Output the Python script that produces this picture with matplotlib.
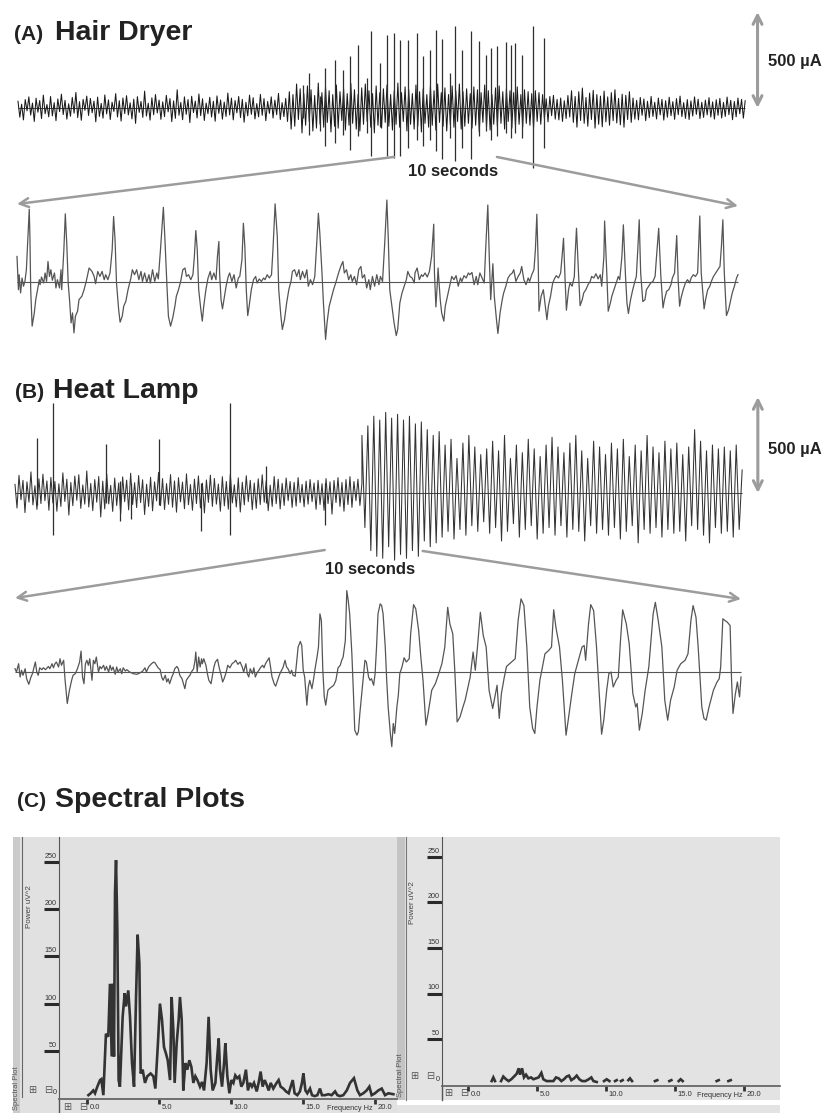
import numpy as np
import matplotlib
matplotlib.use('agg')
import matplotlib.pyplot as plt
from matplotlib.patches import Rectangle, ConnectionPatch

plt.rcParams['font.family'] = ['Liberation Sans', 'DejaVu Sans']

W, H = 826, 1113
PX_PER_UA = 96 / 500.0   # the 500 uA scale bar is 96 px tall

# ---------------- data ----------------
# (A) hair dryer, whole record: background activity (uA, evenly sampled) + spikes
ov_a_len = 70.6
ov_a_noise = [
    35, -48, 20, -62, 44, -15, 58, -37, 26, -70, 51, -22, 39, -55, 67, -30, 18, -46, 60, -41,
    28, -66, 47, -19, 72, -34, 40, -58, 22, -43, 55, -27, 81, -50, 33, -64, 45, -12, 62, -39,
    50, -25, 36, -72, 57, -44, 24, -53, 68, -31, 42, -60, 30, -18, 75, -47, 38, -68, 52, -29,
    64, -36, 27, -57, 46, -80, 59, -23, 34, -49, 88, -42, 25, -63, 53, -35, 70, -26, 41, -59,
    32, -45, 66, -20, 49, -71, 37, -54, 95, -38, 29, -61, 58, -33, 44, -76, 61, -24, 36, -52,
    73, -40, 48, -65, 26, -30, 56, -47, 35, -69, 63, -28, 42, -58, 31, -44, 78, -36, 52, -62,
    39, -25, 60, -50, 45, -74, 30, -41, 67, -33, 54, -57, 23, -46, 71, -38, 49, -66, 34, -28,
    58, -52, 41, -35, 76, -60, 28, -45, 50, -70,
    85, -110, 70, -95, 125, -60, 100, -130, 75, -90, 115, -70, 95, -120, 65, -105, 130, -85, 80, -100,
    110, -75, 90, -125, 70, -95, 120, -105, 85, -65, 100, -115, 75, -90, 128, -80, 95, -110, 70, -120,
    105, -85, 125, -70, 90, -100, 75, -130, 115, -90, 80, -105, 100, -75, 120, -95, 70, -115, 90, -85,
    130, -100, 80, -70, 110, -120, 95, -85, 75, -110, 120, -95, 85, -125, 100, -80, 70, -100, 115, -90,
    90, -115, 125, -75, 80, -95, 105, -120, 70, -85, 115, -100, 90, -70, 125, -110, 85, -95, 100, -80,
    75, -105, 110, -90, 95, -125, 80, -75, 120, -100, 90, -115, 70, -85, 105, -95, 115, -80, 85, -110,
    100, -70, 90, -105, 80, -95, 110, -85, 70, -100, 95, -80, 85, -90, 75, -105, 90, -70, 80, -85,
    70, -55, 48, -72, 60, -40, 66, -58, 45, -62, 52, -70, 38, -55, 65, -47,
    90, -75, 60, -100, 85, -65, 104, -80, 55, -95, 78, -60, 92, -105, 70, -85, 62, -98, 88, -72,
    58, -90, 80, -66, 95, -78, 50, -88, 72, -100, 66, -60, 85, -75, 52,
    -58, 40, -62, 55, -38, 47, -66, 35, -50, 60, -44, 30, -57, 52, -36, 45, -63, 38, -48, 56,
    -40, 33, -59, 49, -35, 62, -45, 28, -54, 44, -60, 37, -42, 58, -33, 46, -55, 30, -49, 41,
    -36, 54, -47, 32, -58, 43, -38, 50, -52, 29, -44, 57, -35, 40, -61, 34, -46, 52, -30, 45,
    -53, 38,
]
ov_a_spike_t = [27.7, 28.3, 29.3, 29.8, 30.8, 31.6, 32.2, 33.0, 33.9, 34.3,
                35.1, 35.8, 36.5, 37.1, 37.9, 38.7, 39.3, 40.0, 40.6, 41.2,
                41.9, 42.4, 43.1, 44.0, 44.8, 45.4, 45.9, 46.5, 47.4, 47.9,
                48.3, 48.9, 50.0, 51.1]
ov_a_spike_up = [121, 182, 60, 208, 251, 199, 269, 329, 156, 399,
                 234, 381, 390, 355, 355, 390, 269, 303, 407, 360,
                 182, 428, 303, 399, 347, 277, 312, 321, 342, 329,
                 338, 277, 425, 364]
ov_a_spike_dn = [-50, -139, -121, -199, -182, -139, -217, -147, -130, -251,
                 -100, -251, -260, -251, -208, -165, -199, -165, -225, -268,
                 -156, -277, -208, -268, -147, -121, -165, -147, -130, -156,
                 -130, -156, -312, -208]
win_a = (36.5, 46.5)   # 10 s window shown enlarged

# (A) enlarged 10 s window (s, uA)
za_t = [
    0.00, 0.02, 0.03, 0.05, 0.07, 0.09, 0.11, 0.13, 0.15, 0.17,
    0.18, 0.19, 0.21, 0.24, 0.26, 0.29, 0.31, 0.32, 0.34, 0.37,
    0.39, 0.41, 0.43, 0.45, 0.47, 0.49, 0.52, 0.54, 0.56, 0.59,
    0.61, 0.62, 0.65, 0.67, 0.69, 0.71, 0.73, 0.75, 0.77, 0.79,
    0.81, 0.84, 0.86, 0.90, 0.93, 0.96, 1.00, 1.04, 1.07, 1.09,
    1.12, 1.15, 1.18, 1.21, 1.23, 1.26, 1.29, 1.32, 1.34, 1.36,
    1.38, 1.41, 1.43, 1.46, 1.48, 1.51, 1.54, 1.58, 1.60, 1.63,
    1.66, 1.69, 1.72, 1.74, 1.77, 1.80, 1.83, 1.85, 1.88, 1.91,
    1.94, 1.96, 1.99, 2.03, 2.05, 2.08, 2.10, 2.13, 2.16, 2.19,
    2.21, 2.24, 2.27, 2.30, 2.33, 2.35, 2.38, 2.41, 2.44, 2.46,
    2.48, 2.50, 2.52, 2.55, 2.57, 2.59, 2.62, 2.65, 2.68, 2.70,
    2.73, 2.76, 2.78, 2.80, 2.81, 2.83, 2.85, 2.87, 2.90, 2.93,
    2.95, 2.98, 3.01, 3.04, 3.07, 3.09, 3.12, 3.14, 3.16, 3.18,
    3.20, 3.22, 3.25, 3.28, 3.31, 3.33, 3.36, 3.39, 3.42, 3.44,
    3.47, 3.50, 3.53, 3.55, 3.58, 3.61, 3.63, 3.66, 3.68, 3.71,
    3.74, 3.77, 3.80, 3.82, 3.85, 3.88, 3.91, 3.93, 3.96, 3.99,
    4.02, 4.04, 4.07, 4.10, 4.13, 4.16, 4.18, 4.20, 4.23, 4.25,
    4.28, 4.30, 4.33, 4.36, 4.39, 4.42, 4.46, 4.49, 4.52, 4.54,
    4.57, 4.60, 4.63, 4.65, 4.68, 4.71, 4.74, 4.77, 4.79, 4.82,
    4.85, 4.88, 4.90, 4.93, 4.96, 4.99, 5.02, 5.04, 5.07, 5.10,
    5.13, 5.15, 5.17, 5.20, 5.23, 5.26, 5.28, 5.31, 5.34, 5.37,
    5.40, 5.42, 5.45, 5.48, 5.51, 5.52, 5.55, 5.58, 5.61, 5.63,
    5.66, 5.69, 5.72, 5.75, 5.78, 5.79, 5.81, 5.83, 5.84, 5.87,
    5.89, 5.92, 5.94, 5.97, 6.00, 6.03, 6.06, 6.09, 6.12, 6.15,
    6.17, 6.20, 6.23, 6.26, 6.28, 6.31, 6.34, 6.37, 6.39, 6.42,
    6.45, 6.48, 6.50, 6.53, 6.55, 6.57, 6.60, 6.62, 6.65, 6.67,
    6.70, 6.73, 6.75, 6.78, 6.81, 6.84, 6.87, 6.89, 6.92, 6.95,
    6.98, 7.00, 7.03, 7.06, 7.09, 7.11, 7.14, 7.17, 7.19, 7.21,
    7.23, 7.24, 7.27, 7.30, 7.35, 7.37, 7.40, 7.43, 7.46, 7.48,
    7.51, 7.54, 7.56, 7.58, 7.60, 7.62, 7.65, 7.67, 7.70, 7.73,
    7.74, 7.76, 7.79, 7.81, 7.84, 7.86, 7.89, 7.92, 7.95, 7.97,
    8.00, 8.03, 8.06, 8.09, 8.11, 8.14, 8.15, 8.18, 8.20, 8.23,
    8.25, 8.28, 8.31, 8.34, 8.36, 8.39, 8.41, 8.44, 8.46, 8.48,
    8.51, 8.54, 8.57, 8.59, 8.61, 8.63, 8.65, 8.68, 8.71, 8.73,
    8.76, 8.79, 8.82, 8.85, 8.87, 8.90, 8.93, 8.96, 8.98, 9.01,
    9.04, 9.07, 9.09, 9.12, 9.15, 9.17, 9.19, 9.21, 9.24, 9.27,
    9.30, 9.33, 9.35, 9.38, 9.41, 9.44, 9.47, 9.49, 9.53, 9.55,
    9.58, 9.61, 9.63, 9.66, 9.69, 9.72, 9.75, 9.77, 9.79, 9.81,
    9.84, 9.87, 9.90, 9.92, 9.95, 9.98, 10.00,
]
za_v = [
    133, -40, 38, -57, 21, -22, 3, 64, 220, 379,
    220, -40, -230, -161, -92, -31, 12, -14, 26, -5,
    47, 3, 107, 29, 64, 9, 47, -31, 12, -31,
    64, -40, 168, 355, 202, -5, -100, -213, -161, -265,
    -178, -152, -92, -74, -40, 3, 73, 55, 29, -9,
    55, 29, 55, 12, 38, 12, 47, 168, 341, 220,
    -5, -144, -209, -178, -126, -100, -40, 21, 64, 38,
    64, 12, 55, 3, 47, -2, 38, -5, 64, 3,
    47, 16, 168, 389, 237, -22, -178, -230, -187, -126,
    -74, -40, 3, 64, 73, 29, 38, 12, 38, 133,
    268, 168, -40, -144, -204, -126, -40, 21, 55, 12,
    47, 12, 133, 211, 47, -92, -140, -92, -22, 29,
    47, 3, 38, -31, 21, 29, 116, 306, 185, -40,
    -175, -126, -40, 12, 29, -5, 16, 3, 21, 12,
    38, 21, 38, 168, 407, 237, -40, -178, -247, -196,
    -109, -40, 3, 55, 64, 29, 64, 12, 55, 21,
    64, -22, 12, -14, 29, 220, 358, 254, 47, -109,
    -299, -213, -126, -83, -40, -5, 47, 81, 107, 47,
    64, 12, 38, 3, 29, -14, 64, 81, 21, 38,
    -31, 12, -40, 29, -22, 38, -14, 29, 3, 202,
    427, 220, -40, -126, -213, -279, -247, -109, -57, -22,
    12, 55, 29, 21, -5, 47, 73, 12, 38, 29,
    47, 26, 55, 133, 301, 47, -130, -5, 73, -92,
    -161, -204, -126, -74, -22, 29, 12, 33, -22, 21,
    3, 33, 21, 47, 38, 50, -14, 29, -14, 47,
    21, -5, 168, 401, 133, -92, 95, -74, -196, -268,
    -161, -92, -57, -22, 21, 38, 47, 64, 3, 29,
    47, 81, 12, -14, 21, 3, 38, 64, 168, 353,
    81, -152, -74, -40, -196, -126, -74, -5, 21, 33,
    21, 47, 133, 228, 29, -147, -40, -5, -22, 29,
    133, 280, 29, -123, -92, -57, -40, -14, 3, 29,
    21, 43, 16, 38, -22, 133, 318, 47, -152, -109,
    -74, -40, -5, 29, 12, 133, 298, 29, -109, -164,
    -92, -40, 3, 29, 168, 324, 47, -102, -92, -40,
    -22, -5, 3, 29, 133, 280, 29, -135, -92, -48,
    -40, -14, 21, 47, 242, 12, -126, -83, -40, -5,
    12, -5, 21, 38, 29, 47, 344, 47, -140, -92,
    -40, -22, 3, 29, 47, 64, 81, 185, 324, 47,
    -175, -144, -92, -57, -22, 21, 38,
]

# (B) heat lamp, whole record: before heating and during heating (uA, evenly sampled)
ov_b_rest_len = 35.4
ov_b_rest = [
    45, -78, 92, -35, 66, -102, 58, -47, 110, -62, 38, -85, 74, -55, 98, -40, 63, -90, 81, -52,
    60, -95, 48, -70, 105, -44, 72, -115, 55, -66, 88, -38, 95, -80, 42, -58, 115, -73, 50, -92,
    70, -48, 86, -125, 62, -83, 99, -57, 40, -96, 78, -65, 52, -108, 84, -45, 67, -88, 103, -60,
    54, -76, 91, -50, 69, -112, 46, -70, 82, -93, 58, -41, 107, -66, 75, -86, 49, -59, 96, -74,
    63, -100, 80, -46, 57, -82, 100, -61, 44, -90, 72, -55, 89, -78, 51, -104, 68, -49, 93, -70,
    76, -58, 47, -95, 85, -67, 60, -84, 98, -52, 43, -73, 79, -99, 56, -62, 90, -45, 66, -87,
    52, -80, 74, -60, 95, -48, 64, -92, 41, -70, 86, -56, 72, -83, 50, -65, 78, -40, 60, -75,
    55, -68, 80, -50, 45, -72, 62, -58, 70, -45, 52, -85, 66, -60, 48, -90, 75, -55, 58, -110,
    65, -50, 80, -70, 55, -95, 70, -60, 85, -75, 60, -40, 72, -65, 50,
]
ov_b_heat_len = 38.8
ov_b_heat = [
    300, -180, 350, -300, 400, -330, 380, -340, 420, -280, 390, -350,
    410, -320, 380, -340, 400, -300, 360, -330, 370, -250, 330, -280,
    300, -260, 320, -230, 250, -200, 280, -240, 180, -190, 260, -220, 300, -170, 240, -200, 200, -150, 230, -210,
    270, -180, 220, -250, 300, -200, 180, -160, 250, -230, 210, -190, 280, -170, 230, -240, 190, -210, 250, -180,
    290, -220, 240, -170, 210, -230, 260, -190, 300, -200, 220, -250, 180, -170, 270, -210, 240, -190, 200, -220,
    260, -180, 230, -240, 280, -200, 190, -170, 250, -260, 220, -190, 300, -210, 240, -180, 210, -230, 270, -190,
    230, -210, 260, -200, 200, -250, 240, -170, 330, -190, 270, -220, 220, -260, 250, -180, 230, -210, 240, -200,
    220, -230, 250, -190, 120,
]
ov_b_spike_t = [2.2, 3.9, 9.3, 10.7, 11.8, 14.7, 19.0, 21.9, 25.6, 31.6]
ov_b_spike_up = [286, 468, 256, 60, 50, 281, 50, 468, 139, 50]
ov_b_spike_dn = [-60, -217, -50, -147, -138, -60, -199, -217, -50, -165]
win_b = (31.6, 41.6)

# (B) enlarged 10 s window (s, uA)
zb_t = [
    0.00, 0.02, 0.05, 0.07, 0.09, 0.11, 0.14, 0.16, 0.19, 0.22,
    0.24, 0.28, 0.30, 0.32, 0.34, 0.37, 0.39, 0.42, 0.46, 0.48,
    0.51, 0.53, 0.55, 0.57, 0.60, 0.62, 0.64, 0.67, 0.69, 0.72,
    0.75, 0.78, 0.80, 0.83, 0.86, 0.89, 0.91, 0.93, 0.95, 0.97,
    0.99, 1.01, 1.03, 1.06, 1.08, 1.10, 1.12, 1.15, 1.17, 1.19,
    1.22, 1.24, 1.26, 1.29, 1.31, 1.33, 1.35, 1.38, 1.40, 1.42,
    1.45, 1.47, 1.49, 1.52, 1.54, 1.58, 1.63, 1.68, 1.72, 1.76,
    1.79, 1.81, 1.84, 1.86, 1.88, 1.91, 1.93, 1.95, 1.97, 2.00,
    2.02, 2.04, 2.07, 2.09, 2.11, 2.13, 2.16, 2.18, 2.20, 2.23,
    2.25, 2.27, 2.30, 2.32, 2.34, 2.36, 2.39, 2.41, 2.43, 2.46,
    2.48, 2.49, 2.51, 2.53, 2.55, 2.57, 2.58, 2.60, 2.63, 2.65,
    2.67, 2.70, 2.72, 2.74, 2.76, 2.79, 2.81, 2.84, 2.86, 2.88,
    2.91, 2.93, 2.96, 2.99, 3.02, 3.04, 3.07, 3.10, 3.13, 3.15,
    3.18, 3.20, 3.22, 3.24, 3.27, 3.29, 3.31, 3.34, 3.36, 3.38,
    3.41, 3.43, 3.45, 3.48, 3.50, 3.52, 3.54, 3.57, 3.59, 3.61,
    3.64, 3.66, 3.69, 3.72, 3.74, 3.76, 3.79, 3.81, 3.83, 3.86,
    3.88, 3.90, 3.93, 3.95, 3.97, 3.99, 4.02, 4.04, 4.06, 4.09,
    4.11, 4.13, 4.16, 4.18, 4.20, 4.22, 4.24, 4.26, 4.28, 4.31,
    4.33, 4.36, 4.39, 4.42, 4.45, 4.48, 4.50, 4.52, 4.55, 4.57,
    4.59, 4.61, 4.64, 4.66, 4.68, 4.71, 4.73, 4.75, 4.78, 4.80,
    4.82, 4.84, 4.87, 4.89, 4.91, 4.94, 4.96, 4.98, 5.00, 5.03,
    5.05, 5.07, 5.10, 5.12, 5.14, 5.17, 5.19, 5.21, 5.23, 5.26,
    5.28, 5.30, 5.33, 5.36, 5.39, 5.43, 5.45, 5.49, 5.52, 5.56,
    5.59, 5.62, 5.66, 5.69, 5.74, 5.79, 5.83, 5.88, 5.92, 5.96,
    5.99, 6.03, 6.06, 6.09, 6.13, 6.17, 6.20, 6.24, 6.27, 6.31,
    6.34, 6.37, 6.41, 6.45, 6.49, 6.53, 6.58, 6.64, 6.67, 6.70,
    6.74, 6.77, 6.84, 6.89, 6.93, 6.97, 7.01, 7.05, 7.09, 7.13,
    7.16, 7.19, 7.23, 7.27, 7.30, 7.35, 7.39, 7.42, 7.45, 7.50,
    7.54, 7.59, 7.62, 7.67, 7.71, 7.76, 7.81, 7.84, 7.86, 7.90,
    7.93, 7.97, 8.01, 8.05, 8.08, 8.11, 8.15, 8.18, 8.21, 8.24,
    8.28, 8.31, 8.34, 8.37, 8.42, 8.46, 8.51, 8.55, 8.57, 8.60,
    8.64, 8.68, 8.73, 8.76, 8.79, 8.82, 8.86, 8.91, 8.95, 8.99,
    9.03, 9.08, 9.12, 9.17, 9.23, 9.27, 9.31, 9.34, 9.38, 9.41,
    9.46, 9.49, 9.52, 9.56, 9.62, 9.67, 9.70, 9.72, 9.75, 9.78,
    9.81, 9.85, 9.87, 9.89, 9.92, 9.95, 9.98, 10.00,
]
zb_v = [
    17, 0, 43, -26, 9, -17, 17, -35, -64, -26,
    -9, 52, 0, -17, 22, 12, 22, 12, 29, 17,
    43, 22, 43, 52, 26, 69, 35, 61, -43, -164,
    -95, -43, -17, -9, 17, 52, 109, -26, -61, 43,
    61, 35, 69, -43, 61, 43, 78, 0, 29, 17,
    35, 9, 29, 0, 35, 9, 26, -12, 26, 0,
    17, -9, 22, 5, 12, 0, -9, -12, -5, 5,
    22, 0, 26, 35, 43, 52, 47, 35, 22, 12,
    -26, -43, -17, -52, -35, -61, -26, -9, 17, 29,
    17, -17, -35, -61, -87, -43, -26, -17, 0, 17,
    61, 104, 0, 78, 26, 69, 43, 69, 35, -9,
    -43, -61, -17, 26, 52, 66, 26, -17, -52, -35,
    0, 35, 22, 43, 52, 61, 40, 52, 26, 0,
    43, -9, -26, 17, -9, 22, -26, 0, 9, 22,
    35, 22, 43, 61, 74, 26, -26, -61, -74, -52,
    -17, 0, 22, 61, 26, 17, -9, 9, -17, -22,
    52, 130, 159, 138, 9, -26, -173, -78, -43, -87,
    -43, 9, 78, 130, 303, 268, 9, -130, -173, -95,
    -87, -78, -69, -43, 22, 35, 61, 78, 164, 424,
    372, 303, 95, -95, -303, -329, -311, -216, -95, -17,
    61, 52, -26, -43, -35, -69, -9, 130, 303, 355,
    346, 303, 130, -43, -182, -320, -389, -268, -320, -182,
    -121, -9, 26, 74, 52, 69, 199, 351, 329, 216,
    78, -43, -277, -216, -95, -61, -17, 43, 130, 337,
    251, 199, -9, -260, -234, -182, -147, -78, -26, 104,
    9, 130, 311, 190, 130, -95, -190, -69, -242, -112,
    -26, 29, 52, 69, 268, 381, 346, 130, -182, -294,
    -320, -182, -43, 35, 95, 112, 130, 324, 234, 130,
    -43, -329, -251, -112, -9, 61, 130, 138, 61, 251,
    351, 320, 130, -130, -324, -251, -95, -9, 0, -78,
    -43, -26, 164, 324, 251, 147, -112, -182, -164, -303,
    -216, -95, 26, 164, 303, 363, 268, 130, -147, -251,
    -147, -78, 9, 43, 61, 95, 268, 346, 285, 130,
    -182, -242, -251, -182, -95, -52, -35, 26, 277, 268,
    260, 242, -43, -216, -121, -52, -130, -26,
]

# (C) spectral plots: frequency (Hz) and power (uV^2)
spec_a_f = [0.12, 0.28, 0.46, 0.58, 0.74, 0.93, 1.02, 1.16, 1.34, 1.50,
            1.62, 1.74, 1.81, 1.90, 1.97, 2.04, 2.13, 2.22, 2.31, 2.50,
            2.64, 2.73, 2.89, 3.01, 3.15, 3.29, 3.43, 3.54, 3.66, 3.75,
            3.89, 4.05, 4.21, 4.44, 4.63, 4.77, 4.95, 5.09, 5.23, 5.37,
            5.51, 5.63, 5.79, 5.90, 6.02, 6.11, 6.25, 6.39, 6.48, 6.60,
            6.71, 6.85, 6.99, 7.13, 7.27, 7.41, 7.55, 7.69, 7.87, 8.01,
            8.15, 8.33, 8.47, 8.61, 8.75, 8.94, 9.07, 9.17, 9.26, 9.40,
            9.54, 9.63, 9.77, 9.91, 10.05, 10.19, 10.32, 10.46, 10.60, 10.74,
            10.88, 11.06, 11.20, 11.34, 11.48, 11.62, 11.81, 11.94, 12.08, 12.22,
            12.36, 12.50, 12.64, 12.78, 12.96, 13.19, 13.33, 13.47, 13.66, 13.84,
            14.03, 14.17, 14.31, 14.44, 14.63, 14.81, 14.95, 15.05, 15.19, 15.32,
            15.51, 15.65, 15.83, 16.02, 16.20, 16.34, 16.55, 16.78, 17.01, 17.25,
            17.41, 17.59, 17.82, 18.06, 18.29, 18.56, 18.80, 18.98, 19.21, 19.44,
            19.63, 19.79, 20.02, 20.25, 20.49, 20.72, 20.95, 21.30]
spec_a_p = [3, 5, 8, 5, 12, 19, 20, 3, 68, 65,
            121, 44, 121, 44, 218, 252, 178, 19, 12, 86,
            111, 97, 114, 86, 37, 12, 107, 173, 143, 26,
            30, 16, 23, 26, 23, 10, 58, 100, 83, 54,
            47, 40, 19, 107, 72, 16, 58, 83, 107, 83,
            8, 37, 30, 40, 33, 16, 23, 19, 12, 17,
            8, 37, 86, 30, 8, 16, 44, 63, 30, 12,
            37, 58, 23, 5, 19, 16, 24, 21, 23, 12,
            16, 30, 8, 16, 12, 16, 7, 16, 28, 12,
            19, 14, 8, 16, 10, 16, 19, 12, 10, 7,
            5, 12, 19, 5, 3, 7, 16, 26, 8, 5,
            10, 3, 2, 3, 10, 3, 3, 4, 3, 7,
            3, 2, 3, 8, 16, 21, 8, 3, 5, 8,
            12, 3, 5, 8, 10, 3, 5, 4]
nan = np.nan
spec_b_f = [1.74, 1.86, 1.98, nan,
            2.42, 2.58, 2.78, 2.97, 3.16, 3.36, 3.55, 3.70, 3.79, 3.94,
            4.08, 4.23, 4.40, 4.59, 4.76, 4.95, 5.14, 5.34, 5.48, 5.72,
            5.97, 6.21, 6.40, 6.59, 6.79, 6.98, 7.17, 7.34, 7.51, 7.71,
            7.90, 8.09, 8.29, 8.53, 8.77, 8.96, 9.11, 9.35, nan,
            9.88, 10.07, 10.27, nan, 10.68, 10.80, nan, 11.11, 11.23, nan,
            11.64, 11.76, 11.91, nan, 13.57, 13.74, nan, 14.61, 14.76, nan,
            15.29, 15.43, 15.58, nan, 18.04, 18.19, nan, 18.89, 19.06]
spec_b_p = [4, 8, 4, nan,
            4, 9, 6, 4, 6, 9, 12, 18, 11, 18,
            8, 11, 7, 8, 6, 7, 8, 13, 6, 4,
            4, 4, 8, 7, 4, 6, 9, 10, 5, 7,
            10, 6, 4, 4, 6, 8, 4, 3, nan,
            4, 6, 4, nan, 4, 5, nan, 4, 5, nan,
            5, 7, 4, nan, 4, 5, nan, 4, 5, nan,
            4, 6, 4, nan, 4, 5, nan, 4, 5]
power_ticks = [0, 50, 100, 150, 200, 250]
freq_ticks = [0, 5, 10, 15, 20]
freq_labels = ['0.0', '5.0', '10.0', '15.0', '20.0']

# ---------------- figure ----------------
fig = plt.figure(figsize=(W / 100, H / 100), dpi=100)


def fx(x):
    return x / W


def fy(y):
    return 1 - y / H


def trace_axes(top, bottom, x0, px_per_s, base):
    # transparent full-width strip; time and uA mapped onto the page
    ax = fig.add_axes([0, 1 - bottom / H, 1, (bottom - top) / H])
    ax.set_xlim(-x0 / px_per_s, (W - x0) / px_per_s)
    ax.set_ylim((base - bottom) / PX_PER_UA, (base - top) / PX_PER_UA)
    ax.axis('off')
    return ax


bg = fig.add_axes([0, 0, 1, 1], zorder=-5)
bg.set_xlim(0, W)
bg.set_ylim(H, 0)
bg.axis('off')

ax_a = trace_axes(0, 200, 18, 10.3, 108)
ax_za = trace_axes(180, 370, 17, 72.1, 282)
ax_b = trace_axes(360, 600, 15, 9.8, 493)
ax_zb = trace_axes(560, 790, 15, 72.6, 672)

arrow_grey = '#9c9c9c'
text_col = '#222222'

# --- (A) ---
t_a = np.linspace(0, ov_a_len, len(ov_a_noise))
ax_a.hlines(0, 0, ov_a_len, color='#444444', lw=0.7)
ax_a.plot(t_a, ov_a_noise, color='#1a1a1a', lw=0.75)
ax_a.vlines(ov_a_spike_t, ov_a_spike_dn, ov_a_spike_up, color='#2e2e2e', lw=0.9)
ax_a.annotate('', xy=(ov_a_len + 1.2, 500), xytext=(ov_a_len + 1.2, 0),
              arrowprops=dict(arrowstyle='<->', color=arrow_grey, lw=2.2,
                              mutation_scale=16, shrinkA=0, shrinkB=0),
              annotation_clip=False)
ax_a.text(ov_a_len + 2.2, 240, '500 µA', fontsize=12, weight='bold',
          va='center', ha='left', color=text_col)
ax_a.text(win_a[0] + 1.4, -333, '10 seconds', fontsize=12, weight='bold',
          va='center', ha='left', color=text_col)

ax_za.hlines(0, 0, 10, color='#555555', lw=0.8)
ax_za.plot(za_t, za_v, color='#555555', lw=0.9)

for ta, tz, va, vz in [(win_a[0], 0, -255, 406), (win_a[1], 10, -255, 396)]:
    con = ConnectionPatch(xyA=(ta, va), coordsA='data', axesA=ax_a,
                          xyB=(tz, vz), coordsB='data', axesB=ax_za,
                          arrowstyle='->', color=arrow_grey, lw=1.8,
                          mutation_scale=16)
    fig.add_artist(con)

# --- (B) ---
t_rest = np.linspace(0, ov_b_rest_len, len(ov_b_rest))
t_heat = np.linspace(ov_b_rest_len, ov_b_rest_len + ov_b_heat_len, len(ov_b_heat))
ov_b_len = ov_b_rest_len + ov_b_heat_len
ax_b.hlines(0, 0, ov_b_len, color='#444444', lw=0.7)
ax_b.plot(np.concatenate([t_rest, t_heat]), ov_b_rest + ov_b_heat,
          color='#333333', lw=0.75)
ax_b.vlines(ov_b_spike_t, ov_b_spike_dn, ov_b_spike_up, color='#2e2e2e', lw=0.9)
ax_b.annotate('', xy=(ov_b_len + 1.6, 500), xytext=(ov_b_len + 1.6, 0),
              arrowprops=dict(arrowstyle='<->', color=arrow_grey, lw=2.2,
                              mutation_scale=16, shrinkA=0, shrinkB=0),
              annotation_clip=False)
ax_b.text(ov_b_len + 2.6, 229, '500 µA', fontsize=12, weight='bold',
          va='center', ha='left', color=text_col)
ax_b.text(win_b[0], -401, '10 seconds', fontsize=12, weight='bold',
          va='center', ha='left', color=text_col)

ax_zb.hlines(0, 0, 10, color='#555555', lw=0.8)
ax_zb.plot(zb_t, zb_v, color='#555555', lw=0.9)

for tb, tz, vb, vz in [(win_b[0], 0, -297, 385), (win_b[1], 10, -302, 380)]:
    con = ConnectionPatch(xyA=(tb, vb), coordsA='data', axesA=ax_b,
                          xyB=(tz, vz), coordsB='data', axesB=ax_zb,
                          arrowstyle='->', color=arrow_grey, lw=1.8,
                          mutation_scale=16)
    fig.add_artist(con)

# --- panel titles ---
for lx, tx, y, lab, title in [(14, 55, 40, '(A)', 'Hair Dryer'),
                              (15, 53, 398, '(B)', 'Heat Lamp'),
                              (17, 55, 807, '(C)', 'Spectral Plots')]:
    fig.text(fx(lx), fy(y), lab, fontsize=15, weight='bold', va='baseline', color=text_col)
    fig.text(fx(tx), fy(y), title, fontsize=20.5, weight='bold', va='baseline', color=text_col)

# --- (C) screenshot-like background ---
bg.add_patch(Rectangle((13, 837), 384, 276, fc='#e1e1e1', ec='none'))
bg.add_patch(Rectangle((13, 837), 7, 276, fc='#cbcbcb', ec='none'))
bg.plot([22, 22], [837, 1097], color='#666666', lw=0.8)
bg.add_patch(Rectangle((397, 837), 8, 263, fc='#c4c4c4', ec='none'))
bg.plot([406, 406], [837, 1100], color='#777777', lw=0.8)
bg.add_patch(Rectangle((405, 837), 375, 263, fc='#e3e3e3', ec='none'))
bg.add_patch(Rectangle((397, 1105), 383, 8, fc='#e3e3e3', ec='none'))
bg.plot([59, 59], [1099, 1113], color='#555555', lw=1)
bg.plot([442, 442], [1086, 1100], color='#555555', lw=1)
for x, y, s in [(32, 1090, '⊞'), (48, 1090, '⊟'), (67, 1107, '⊞'), (83, 1107, '⊟'),
                (414, 1076, '⊞'), (430, 1076, '⊟'), (448, 1093, '⊞'), (464, 1093, '⊟')]:
    bg.text(x, y, s, fontsize=7, color='#555555', ha='center', va='center',
            family=['DejaVu Sans'])
bg.text(16.5, 1088, 'Spectral Plot', rotation=90, fontsize=5.5, color='#555555',
        ha='center', va='center')
bg.text(401, 1075, 'Spectral Plot', rotation=90, fontsize=5.5, color='#555555',
        ha='center', va='center')

spec_axes = [
    ([59, 397, 837, 1099], (-1.92, 21.55), (-1.06, 276.5), spec_a_f, spec_a_p),
    ([442, 780, 837, 1086], (-1.86, 22.63), (-1.4, 271.6), spec_b_f, spec_b_p),
]
for (x0, x1, y0, y1), xl, yl, fr, pw in spec_axes:
    ax = fig.add_axes([fx(x0), fy(y1), (x1 - x0) / W, (y1 - y0) / H])
    ax.patch.set_alpha(0)
    ax.set_xlim(*xl)
    ax.set_ylim(*yl)
    ax.plot(fr, pw, color='#333333', lw=1.9, solid_joinstyle='miter')
    for s in ['top', 'right']:
        ax.spines[s].set_visible(False)
    ax.spines['left'].set_color('#555555')
    ax.spines['bottom'].set_color('#666666')
    ax.spines['bottom'].set_linewidth(1.3)
    ax.set_yticks(power_ticks[1:])
    ax.tick_params(axis='y', direction='out', length=11, width=2.2, color='#2a2a2a',
                   labelleft=False)
    ax.set_xticks(freq_ticks)
    ax.tick_params(axis='x', direction='out', length=3.5, width=2, color='#333333',
                   labelbottom=False)
    for v in power_ticks:
        ax.annotate(str(v), xy=(0, v), xycoords=ax.get_yaxis_transform(),
                    xytext=(-1.5, 1.5), textcoords='offset points',
                    ha='right', va='bottom', fontsize=5.2, color='#333333')
    for f, lab in zip(freq_ticks, freq_labels):
        ax.annotate(lab, xy=(f, 0), xycoords=ax.get_xaxis_transform(),
                    xytext=(2, -6), textcoords='offset points',
                    ha='left', va='center', fontsize=5.5, color='#333333')
    ax.annotate('Frequency Hz', xy=(18.3, 0), xycoords=ax.get_xaxis_transform(),
                xytext=(0, -7), textcoords='offset points',
                ha='center', va='center', fontsize=5.3, color='#333333')
    ax.text(-0.086, 0.735, 'Power uV^2', transform=ax.transAxes, rotation=90,
            fontsize=5.8, color='#444444', ha='center', va='center')

fig.savefig('out.png', dpi=100)
